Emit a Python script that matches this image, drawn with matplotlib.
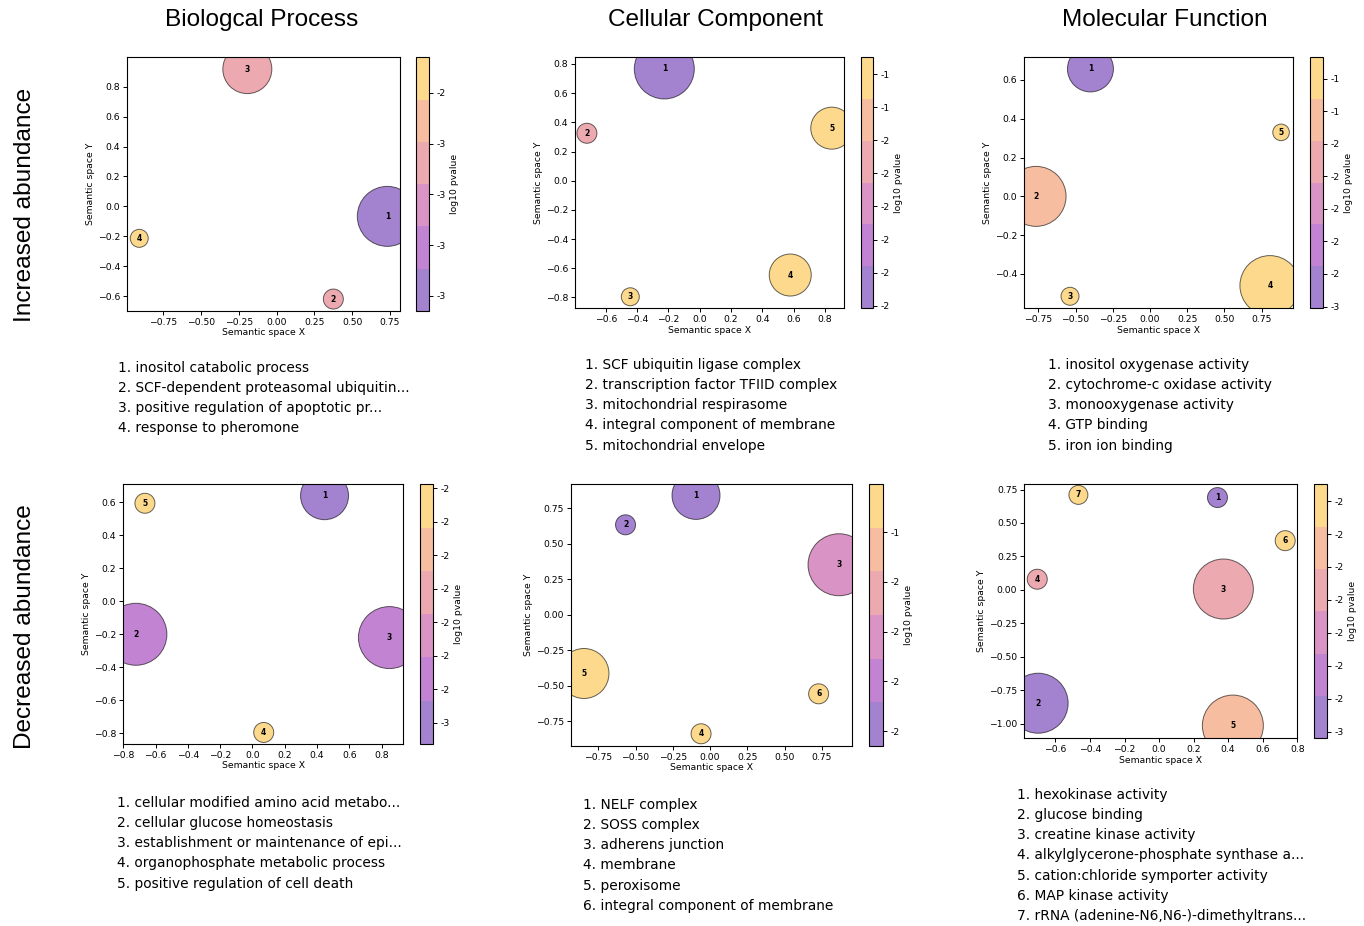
import matplotlib
matplotlib.use("Agg")
import matplotlib.pyplot as plt
from matplotlib.colors import ListedColormap, Normalize
from matplotlib.cm import ScalarMappable
from matplotlib.ticker import MultipleLocator

W, H = 1364, 926
DPI = 100

# six-level palette used by every panel
band_colors = ['#a382cf', '#c283d2', '#d993c4', '#eda9b0', '#f7bda0', '#fcd98c']

col_titles = ["Biologcal Process", "Cellular Component", "Molecular Function"]
row_titles = ["Increased abundance", "Decreased abundance"]

# ---- increased / biological process
bp_up_x = [0.732, 0.375, -0.194, -0.909]
bp_up_y = [-0.067, -0.62, 0.918, -0.214]
bp_up_size = [30, 10, 24.5, 9]
bp_up_logp = [-3.26, -2.65, -2.70, -2.26]
bp_up_terms = ["inositol catabolic process",
               "SCF-dependent proteasomal ubiquitin...",
               "positive regulation of apoptotic pr...",
               "response to pheromone"]
bp_up_ticks = [-3.2, -3.0, -2.8, -2.6, -2.4]
bp_up_ticklabels = ["-3", "-3", "-3", "-3", "-2"]

# ---- increased / cellular component
cc_up_x = [-0.226, -0.72, -0.443, 0.578, 0.843]
cc_up_y = [0.766, 0.325, -0.796, -0.647, 0.36]
cc_up_size = [30, 10, 9, 21, 21]
cc_up_logp = [-2.008, -1.56, -1.28, -1.30, -1.247]
cc_up_terms = ["SCF ubiquitin ligase complex",
               "transcription factor TFIID complex",
               "mitochondrial respirasome",
               "integral component of membrane",
               "mitochondrial envelope"]
cc_up_ticks = [-2.0, -1.9, -1.8, -1.7, -1.6, -1.5, -1.4, -1.3]
cc_up_ticklabels = ["-2", "-2", "-2", "-2", "-2", "-2", "-1", "-1"]

# ---- increased / molecular function
mf_up_x = [-0.40, -0.765, -0.537, 0.805, 0.88]
mf_up_y = [0.657, 0.0, -0.515, -0.46, 0.33]
mf_up_size = [23, 30, 9, 30, 8.3]
mf_up_logp = [-2.611, -1.45, -1.20, -1.064, -1.10]
mf_up_terms = ["inositol oxygenase activity",
               "cytochrome-c oxidase activity",
               "monooxygenase activity",
               "GTP binding",
               "iron ion binding"]
mf_up_ticks = [-2.6, -2.4, -2.2, -2.0, -1.8, -1.6, -1.4, -1.2]
mf_up_ticklabels = ["-3", "-2", "-2", "-2", "-2", "-2", "-1", "-1"]

# ---- decreased / biological process
bp_dn_x = [0.447, -0.722, 0.849, 0.07, -0.666]
bp_dn_y = [0.64, -0.20, -0.22, -0.795, 0.594]
bp_dn_size = [24, 31, 31, 10, 10]
bp_dn_logp = [-2.664, -2.47, -2.45, -1.92, -1.888]
bp_dn_terms = ["cellular modified amino acid metabo...",
               "cellular glucose homeostasis",
               "establishment or maintenance of epi...",
               "organophosphate metabolic process",
               "positive regulation of cell death"]
bp_dn_ticks = [-2.6, -2.5, -2.4, -2.3, -2.2, -2.1, -2.0, -1.9]
bp_dn_ticklabels = ["-3", "-2", "-2", "-2", "-2", "-2", "-2", "-2"]

# ---- decreased / cellular component
cc_dn_x = [-0.094, -0.567, 0.866, -0.06, -0.846, 0.729]
cc_dn_y = [0.84, 0.633, 0.352, -0.837, -0.413, -0.556]
cc_dn_size = [24, 10, 31, 10, 25, 10]
cc_dn_logp = [-2.259, -2.20, -1.82, -1.25, -1.207, -1.30]
cc_dn_terms = ["NELF complex",
               "SOSS complex",
               "adherens junction",
               "membrane",
               "peroxisome",
               "integral component of membrane"]
cc_dn_ticks = [-2.2, -2.0, -1.8, -1.6, -1.4]
cc_dn_ticklabels = ["-2", "-2", "-2", "-2", "-1"]

# ---- decreased / molecular function
mf_dn_x = [0.338, -0.70, 0.372, -0.705, 0.427, 0.73, -0.467]
mf_dn_y = [0.69, -0.846, 0.007, 0.08, -1.013, 0.368, 0.71]
mf_dn_size = [10, 30, 30, 10, 30.5, 10, 9.5]
mf_dn_logp = [-2.62, -2.55, -2.15, -2.17, -2.04, -1.90, -1.849]
mf_dn_terms = ["hexokinase activity",
               "glucose binding",
               "creatine kinase activity",
               "alkylglycerone-phosphate synthase a...",
               "cation:chloride symporter activity",
               "MAP kinase activity",
               "rRNA (adenine-N6,N6-)-dimethyltrans..."]
mf_dn_ticks = [-2.6, -2.5, -2.4, -2.3, -2.2, -2.1, -2.0, -1.9]
mf_dn_ticklabels = ["-3", "-2", "-2", "-2", "-2", "-2", "-2", "-2"]

panels = [
    dict(x=bp_up_x, y=bp_up_y, size=bp_up_size, logp=bp_up_logp, terms=bp_up_terms,
         ticks=bp_up_ticks, ticklabels=bp_up_ticklabels, vlim=(-3.26, -2.26),
         ax=(127.3, 400, 57.3, 311), cb=(416, 429.3), xlim=(-0.988, 0.816), ylim=(-0.70, 0.997),
         step=(0.25, 0.2), text=(118, 367)),
    dict(x=cc_up_x, y=cc_up_y, size=cc_up_size, logp=cc_up_logp, terms=cc_up_terms,
         ticks=cc_up_ticks, ticklabels=cc_up_ticklabels, vlim=(-2.008, -1.247),
         ax=(575, 844.3, 56.7, 308.3), cb=(861, 873.3), xlim=(-0.796, 0.923), ylim=(-0.875, 0.85),
         step=(0.2, 0.2), text=(585, 364)),
    dict(x=mf_up_x, y=mf_up_y, size=mf_up_size, logp=mf_up_logp, terms=mf_up_terms,
         ticks=mf_up_ticks, ticklabels=mf_up_ticklabels, vlim=(-2.611, -1.064),
         ax=(1024.3, 1293.3, 56.7, 308.3), cb=(1310, 1323.3), xlim=(-0.844, 0.962), ylim=(-0.577, 0.72),
         step=(0.25, 0.2), text=(1048, 364)),
    dict(x=bp_dn_x, y=bp_dn_y, size=bp_dn_size, logp=bp_dn_logp, terms=bp_dn_terms,
         ticks=bp_dn_ticks, ticklabels=bp_dn_ticklabels, vlim=(-2.664, -1.888),
         ax=(123.3, 403.3, 484.3, 744), cb=(420, 433.3), xlim=(-0.80, 0.935), ylim=(-0.865, 0.709),
         step=(0.2, 0.2), text=(117, 802)),
    dict(x=cc_dn_x, y=cc_dn_y, size=cc_dn_size, logp=cc_dn_logp, terms=cc_dn_terms,
         ticks=cc_dn_ticks, ticklabels=cc_dn_ticklabels, vlim=(-2.259, -1.207),
         ax=(571, 852.3, 484.3, 745.7), cb=(869, 883.3), xlim=(-0.933, 0.955), ylim=(-0.921, 0.918),
         step=(0.25, 0.25), text=(583, 804)),
    dict(x=mf_dn_x, y=mf_dn_y, size=mf_dn_size, logp=mf_dn_logp, terms=mf_dn_terms,
         ticks=mf_dn_ticks, ticklabels=mf_dn_ticklabels, vlim=(-2.62, -1.849),
         ax=(1024.3, 1297.3, 484.3, 738.3), cb=(1314, 1327.3), xlim=(-0.78, 0.80), ylim=(-1.108, 0.789),
         step=(0.2, 0.25), text=(1017, 794)),
]

fig = plt.figure(figsize=(W / DPI, H / DPI), dpi=DPI)
cmap = ListedColormap(band_colors)
small = 6.7


def px_rect(left, right, top, bottom):
    return [left / W, 1 - bottom / H, (right - left) / W, (bottom - top) / H]


for p in panels:
    l, r, t, b = p["ax"]
    ax = fig.add_axes(px_rect(l, r, t, b))
    norm = Normalize(*p["vlim"])
    s = [(2 * v * 72 / DPI) ** 2 for v in p["size"]]
    ax.scatter(p["x"], p["y"], s=s, c=p["logp"], cmap=cmap, norm=norm,
               edgecolors=(0, 0, 0, 0.6), linewidths=0.7, zorder=2)
    for i, (xx, yy) in enumerate(zip(p["x"], p["y"])):
        ax.text(xx, yy, str(i + 1), ha="center", va="center", fontsize=5.5,
                fontweight="bold", zorder=3)
    ax.set_xlim(*p["xlim"])
    ax.set_ylim(*p["ylim"])
    ax.xaxis.set_major_locator(MultipleLocator(p["step"][0]))
    ax.yaxis.set_major_locator(MultipleLocator(p["step"][1]))
    ax.tick_params(labelsize=small, length=3, width=0.7, pad=2)
    ax.set_xlabel("Semantic space X", fontsize=small, labelpad=1)
    ax.set_ylabel("Semantic space Y", fontsize=small, labelpad=2)
    for sp in ax.spines.values():
        sp.set_linewidth(0.8)

    cax = fig.add_axes(px_rect(p["cb"][0], p["cb"][1], t, b))
    cbar = fig.colorbar(ScalarMappable(norm=norm, cmap=cmap), cax=cax)
    cbar.set_ticks(p["ticks"])
    cbar.set_ticklabels(p["ticklabels"])
    cbar.ax.tick_params(labelsize=small, length=3, width=0.7, pad=2)
    cbar.set_label("log10 pvalue", fontsize=small, labelpad=3)
    cbar.outline.set_linewidth(0.8)

    lines = "\n".join(f"{i + 1}. {term}" for i, term in enumerate(p["terms"]))
    tx, ty = p["text"]
    fig.text(tx / W, 1 - (ty - 6) / H, lines, ha="left", va="top",
             fontsize=9.9, linespacing=1.56, family="DejaVu Sans")

for title, cx in zip(col_titles, [262, 715, 1165]):
    fig.text(cx / W, 1 - 20 / H, title, ha="center", va="center",
             fontsize=17.6, family="Liberation Sans")

for title, cy in zip(row_titles, [205, 627]):
    fig.text(25 / W, 1 - cy / H, title, ha="center", va="center", rotation=90,
             fontsize=17.6, family="Liberation Sans")

fig.savefig("out.png", dpi=DPI)
